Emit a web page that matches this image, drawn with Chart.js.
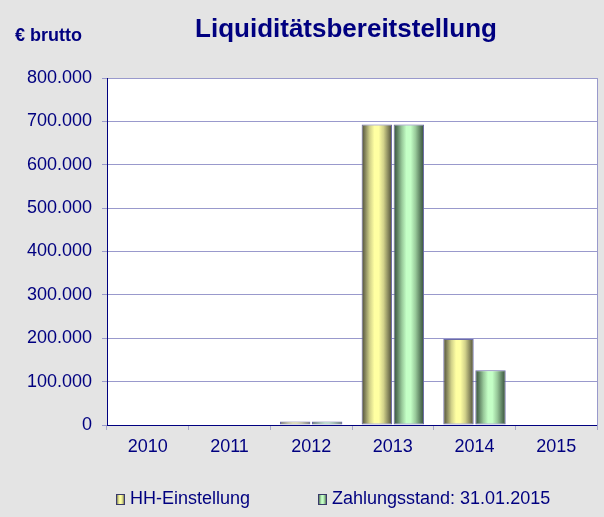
<!DOCTYPE html>
<html>
<head>
<meta charset="utf-8">
<script src="https://cdn.jsdelivr.net/npm/chart.js@4/dist/chart.umd.min.js"></script>
<style>
  body { margin: 0; background: #e4e4e4; }
  #wrap { width: 604px; height: 517px; }
</style>
</head>
<body>
<div id="wrap"><canvas id="ch1" width="604" height="517"></canvas></div>
<script>
// data (EUR)
const years = ['2010', '2011', '2012', '2013', '2014', '2015'];
const hhEinstellung = [0, 0, 8000, 693000, 198000, 0];
const zahlungsstand = [0, 0, 8000, 693000, 126000, 0];
const seriesNames = ['HH-Einstellung', 'Zahlungsstand: 31.01.2015'];
const yMin = 0, yMax = 800000, yStep = 100000;
const chartTitle = 'Liquiditätsbereitstellung';
const unitLabel = '€ brutto';

const navy = '#000080';
const gridCol = '#9999cc';
const font = 'Liberation Sans, Arial, sans-serif';
const catPct = 0.784, barPct = 0.95;

// cylinder colours: light / mid / darkish / dark
const yellowCols = ['#ffffa2', '#d2d28a', '#85855c', '#4a4a34'];
const greenCols = ['#c4ffc6', '#98c99a', '#5c7f60', '#344c38'];

function cylGrad(ctx, left, w, cols) {
  let g = ctx.createLinearGradient(left, 0, left + w, 0);
  g.addColorStop(0, cols[3]);
  g.addColorStop(0.12, cols[2]);
  g.addColorStop(0.27, cols[1]);
  g.addColorStop(0.42, cols[0]);
  g.addColorStop(0.56, cols[0]);
  g.addColorStop(0.72, cols[1]);
  g.addColorStop(0.88, cols[2]);
  g.addColorStop(1, cols[3]);
  return g;
}

// scriptable fill, bar position taken from the x scale (same math as chart.js ruler)
function barFill(cols) {
  return function(c) {
    const chart = c.chart, xs = chart.scales.x;
    if (c.type !== 'data' || !xs || !xs.width) return cols[0];
    const catW = xs.width / years.length * catPct;
    const barW = catW / 2 * barPct;
    const center = xs.getPixelForValue(c.dataIndex);
    const left = center - catW / 2 + c.datasetIndex * catW / 2 + (catW / 2 - barW) / 2;
    return cylGrad(chart.ctx, left, barW, cols);
  };
}

function fmt(v) { //800000 -> 800.000
  return String(v).replace(/\B(?=(\d{3})+(?!\d))/g, '.');
}

const deko = {
  id: 'deko',
  beforeDraw(chart) {
    const ctx = chart.ctx, a = chart.chartArea;
    ctx.save();
    ctx.fillStyle = '#e4e4e4';
    ctx.fillRect(0, 0, chart.width, chart.height);
    ctx.fillStyle = '#ffffff';
    ctx.fillRect(a.left, a.top, a.right - a.left, a.bottom - a.top);
    ctx.restore();
  },
  afterDraw(chart) {
    const ctx = chart.ctx;
    ctx.save();
    ctx.fillStyle = navy;
    ctx.textBaseline = 'middle';
    ctx.textAlign = 'center';
    ctx.font = 'bold 26px ' + font;
    ctx.fillText(chartTitle, 346, 30);
    ctx.textAlign = 'left';
    ctx.font = 'bold 18px ' + font;
    ctx.fillText(unitLabel, 15, 36);

    // legend
    ctx.font = '18px ' + font;
    const colsList = [yellowCols, greenCols];
    const xs = [116, 318];
    for (let i = 0; i < seriesNames.length; i++) {
      const bx = xs[i], by = 494, bw = 9, bh = 11;
      ctx.fillStyle = cylGrad(ctx, bx, bw, colsList[i]);
      ctx.fillRect(bx, by, bw, bh);
      ctx.strokeStyle = '#3a3a6a';
      ctx.lineWidth = 1;
      ctx.strokeRect(bx + 0.5, by + 0.5, bw - 1, bh - 1);
      ctx.fillStyle = navy;
      ctx.fillText(seriesNames[i], bx + 14, 499);
    }
    ctx.restore();
  }
};

new Chart(document.getElementById('ch1'), {
  type: 'bar',
  data: {
    labels: years,
    datasets: [{
      label: seriesNames[0],
      data: hhEinstellung,
      backgroundColor: barFill(yellowCols),
      borderColor: '#6a6aa8',
      borderWidth: 1,
      borderSkipped: false,
      categoryPercentage: catPct,
      barPercentage: barPct
    }, {
      label: seriesNames[1],
      data: zahlungsstand,
      backgroundColor: barFill(greenCols),
      borderColor: '#6a6aa8',
      borderWidth: 1,
      borderSkipped: false,
      categoryPercentage: catPct,
      barPercentage: barPct
    }]
  },
  options: {
    responsive: false,
    animation: false,
    layout: { padding: { top: 78, right: 7, left: 0, bottom: 0 } },
    plugins: {
      legend: { display: false },
      title: { display: false },
      tooltip: { enabled: false }
    },
    scales: {
      x: {
        offset: true,
        grid: { offset: true, drawOnChartArea: false, drawTicks: true, tickLength: 5, tickColor: '#a8a8c8' },
        border: { color: navy, width: 1 },
        ticks: { color: navy, font: { family: font, size: 18 }, padding: 6, maxRotation: 0 },
        afterFit(s) { s.height = 92; }
      },
      y: {
        min: yMin, max: yMax,
        grid: { color: gridCol, tickColor: gridCol, tickLength: 5 },
        border: { color: navy, width: 1 },
        ticks: {
          stepSize: yStep, color: navy, padding: 10,
          font: { family: font, size: 18 },
          callback: v => fmt(v)
        },
        afterFit(s) { s.width = 107; }
      },
      y2: {
        position: 'right',
        grid: { drawOnChartArea: false, drawTicks: false },
        border: { color: gridCol, width: 1 },
        ticks: { display: false },
        afterFit(s) { s.width = 0; }
      }
    }
  },
  plugins: [deko]
});
</script>
</body>
</html>
